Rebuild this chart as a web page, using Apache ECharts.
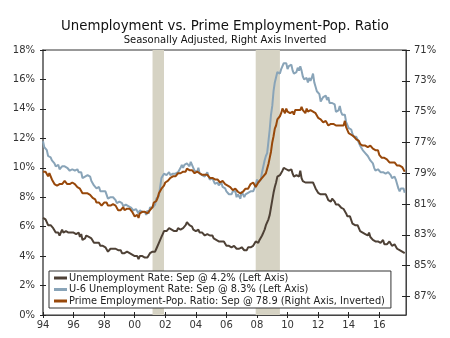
<!DOCTYPE html>
<html>
<head>
<meta charset="utf-8">
<script src="https://cdn.jsdelivr.net/npm/echarts@6/dist/echarts.min.js"></script>
<style>html,body{margin:0;padding:0;background:#fff}#c{width:450px;height:338px}</style>
</head>
<body>
<div id="c"></div>
<script>
// Monthly data, Jan 1994 - Sep 2017
var startYear = 1994;
var unemploymentRate = [
6.6,6.6,6.5,6.4,6.1,6.1,6.1,6.0,5.9,5.8,5.6,5.5,
5.6,5.4,5.4,5.8,5.6,5.6,5.7,5.7,5.6,5.5,5.6,5.6,
5.6,5.5,5.5,5.6,5.6,5.3,5.5,5.1,5.2,5.2,5.4,5.4,
5.3,5.2,5.2,5.1,4.9,5.0,4.9,4.8,4.9,4.7,4.6,4.7,
4.6,4.6,4.7,4.3,4.4,4.5,4.5,4.5,4.6,4.5,4.4,4.4,
4.3,4.4,4.2,4.3,4.2,4.3,4.3,4.2,4.2,4.1,4.1,4.0,
4.0,4.1,4.0,3.8,4.0,4.0,4.0,4.1,3.9,3.9,3.9,3.9,
4.2,4.2,4.3,4.4,4.3,4.5,4.6,4.9,5.0,5.3,5.5,5.7,
5.7,5.7,5.7,5.9,5.8,5.8,5.8,5.7,5.7,5.7,5.9,6.0,
5.8,5.9,5.9,6.0,6.1,6.3,6.2,6.1,6.1,6.0,5.8,5.7,
5.7,5.6,5.8,5.6,5.6,5.6,5.5,5.4,5.4,5.5,5.4,5.4,
5.3,5.4,5.2,5.2,5.1,5.0,5.0,4.9,5.0,5.0,5.0,4.9,
4.7,4.8,4.7,4.7,4.6,4.6,4.7,4.7,4.5,4.4,4.5,4.4,
4.6,4.5,4.4,4.5,4.4,4.6,4.7,4.6,4.7,4.7,4.7,5.0,
5.0,4.9,5.1,5.0,5.4,5.6,5.8,6.1,6.1,6.5,6.8,7.3,
7.8,8.3,8.7,9.0,9.4,9.5,9.5,9.6,9.8,10.0,9.9,9.9,
9.8,9.8,9.9,9.9,9.6,9.4,9.4,9.5,9.5,9.4,9.8,9.3,
9.1,9.0,9.0,9.1,9.0,9.1,9.0,9.0,9.0,8.8,8.6,8.5,
8.3,8.3,8.2,8.2,8.2,8.2,8.2,8.0,7.8,7.8,7.7,7.9,
8.0,7.7,7.5,7.6,7.5,7.5,7.3,7.2,7.2,7.2,6.9,6.7,
6.6,6.7,6.7,6.2,6.3,6.1,6.2,6.1,5.9,5.7,5.8,5.6,
5.7,5.5,5.4,5.4,5.6,5.3,5.2,5.1,5.0,5.0,5.1,5.0,
4.9,4.9,5.0,5.1,4.8,4.9,4.8,4.9,5.0,4.9,4.7,4.7,
4.8,4.7,4.5,4.4,4.4,4.3,4.3,4.4,4.2
];
var u6Rate = [
11.8,11.4,11.4,11.2,10.8,10.9,10.7,10.5,10.4,10.3,10.1,10.0,
10.2,9.9,9.9,10.1,10.0,10.1,10.1,10.0,10.0,9.8,9.9,9.9,
9.8,9.8,9.8,9.9,9.7,9.6,9.7,9.3,9.4,9.4,9.3,9.5,
9.4,9.4,9.1,9.2,8.8,8.8,8.6,8.7,8.7,8.4,8.3,8.4,
8.4,8.4,8.4,7.9,7.9,8.0,8.1,8.0,7.9,7.8,7.6,7.6,
7.7,7.7,7.6,7.4,7.5,7.5,7.5,7.4,7.4,7.3,7.2,7.1,
7.1,7.2,7.1,6.9,7.1,7.0,7.0,7.1,7.0,6.8,7.1,6.9,
7.3,7.4,7.3,7.4,7.5,7.9,7.8,8.1,8.7,9.3,9.4,9.6,
9.5,9.5,9.4,9.7,9.5,9.5,9.6,9.6,9.6,9.6,9.7,9.8,
10.0,10.2,10.0,10.2,10.1,10.3,10.3,10.1,10.4,10.2,10.0,9.8,
9.9,9.7,10.0,9.6,9.6,9.5,9.5,9.4,9.4,9.7,9.4,9.2,
9.3,9.3,9.1,8.9,8.9,9.0,8.8,8.9,9.0,8.7,8.7,8.6,
8.4,8.4,8.2,8.1,8.2,8.4,8.5,8.4,8.0,8.2,8.1,7.9,
8.4,8.2,8.0,8.2,8.2,8.3,8.4,8.4,8.4,8.4,8.4,8.8,
9.2,9.0,9.1,9.2,9.7,10.1,10.5,10.8,11.0,11.8,12.6,13.6,
14.2,15.2,15.8,15.9,16.5,16.5,16.4,16.7,16.7,17.1,17.1,17.1,
16.7,16.9,16.9,17.0,16.6,16.4,16.4,16.5,16.8,16.6,16.9,16.6,
16.2,16.0,15.9,16.1,15.8,16.1,15.9,16.1,16.4,15.8,15.5,15.2,
15.2,15.0,14.5,14.6,14.8,14.8,14.9,14.6,14.8,14.4,14.4,14.4,
14.5,14.3,13.8,13.9,13.9,14.2,13.8,13.6,13.5,13.6,13.1,13.1,
12.7,12.6,12.6,12.3,12.1,12.0,12.1,12.0,11.7,11.5,11.4,11.2,
11.3,11.0,10.9,10.8,10.7,10.5,10.4,10.3,10.0,9.8,9.9,9.9,
9.9,9.7,9.8,9.7,9.7,9.6,9.7,9.7,9.7,9.5,9.3,9.2,
9.4,9.2,8.9,8.6,8.4,8.6,8.6,8.6,8.3
];
var primeEpop = [
78.9,79.0,78.9,79.0,79.2,79.0,79.1,79.4,79.5,79.7,79.8,79.8,
79.8,79.7,79.8,79.7,79.6,79.5,79.6,79.7,79.7,79.7,79.6,79.6,
79.6,79.7,79.8,79.9,79.9,80.0,80.1,80.3,80.3,80.3,80.2,80.3,
80.3,80.4,80.5,80.6,80.7,80.7,80.9,80.8,80.9,81.0,81.1,81.1,
80.9,80.8,80.9,81.1,81.2,81.1,81.0,81.0,81.0,81.1,81.2,81.4,
81.4,81.4,81.3,81.2,81.4,81.3,81.3,81.3,81.3,81.4,81.5,81.5,
81.8,81.7,81.7,81.9,81.6,81.6,81.5,81.4,81.5,81.6,81.6,81.7,
81.4,81.3,81.2,80.9,80.8,80.8,80.6,80.3,80.4,80.0,79.9,79.8,
79.6,79.6,79.5,79.4,79.3,79.3,79.2,79.1,79.2,79.1,79.0,78.9,
79.0,79.0,78.9,78.9,78.9,78.7,78.8,78.8,78.7,78.8,78.9,79.0,
78.9,78.9,78.9,79.0,79.1,79.1,79.2,79.1,79.1,79.1,79.2,79.3,
79.3,79.3,79.3,79.4,79.4,79.4,79.5,79.6,79.6,79.5,79.6,79.7,
79.7,79.8,79.9,79.9,80.0,80.1,80.0,80.0,80.1,80.2,80.2,80.3,
80.3,80.2,80.2,80.0,80.0,80.0,79.9,79.7,79.8,79.6,79.7,79.9,
79.9,79.6,79.6,79.4,79.3,79.2,79.1,79.0,78.7,78.4,78.0,77.6,
77.0,76.6,76.1,75.9,75.5,75.4,75.3,75.1,74.8,74.9,75.1,74.8,
75.0,75.0,75.1,75.1,75.0,75.2,74.9,74.8,74.9,74.9,74.9,74.7,
74.9,75.0,75.1,74.8,75.0,74.9,74.9,74.9,75.0,75.0,75.1,75.1,
75.4,75.5,75.5,75.5,75.7,75.7,75.6,75.7,75.9,76.0,75.8,75.7,
75.8,75.8,75.9,75.9,75.9,75.8,75.9,75.8,75.9,75.6,76.0,75.9,
76.4,76.4,76.5,76.5,76.6,76.6,76.8,76.7,76.9,77.1,77.2,77.2,
77.2,77.2,77.3,77.3,77.3,77.2,77.2,77.4,77.4,77.5,77.5,77.5,
77.8,77.9,78.0,78.0,78.0,78.1,78.1,78.2,78.3,78.3,78.3,78.3,
78.3,78.4,78.5,78.5,78.5,78.5,78.6,78.5,78.9
];
var seriesNames = [
  'Unemployment Rate: Sep @ 4.2% (Left Axis)',
  'U-6 Unemployment Rate: Sep @ 8.3% (Left Axis)',
  'Prime Employment-Pop. Ratio: Sep @ 78.9 (Right Axis, Inverted)'
];
var recessions = [[2001 + 2/12, 2001 + 11/12], [2007 + 11/12, 2009 + 6/12]];
var xTickYears = [1994,1996,1998,2000,2002,2004,2006,2008,2010,2012,2014,2016];
var leftTicks = [0,2,4,6,8,10,12,14,16,18];
var rightTicks = [71,73,75,77,79,81,83,85,87];

function toPairs(arr) {
  return arr.map(function (v, i) { return [startYear + i / 12, v]; });
}
var FONT = 'DejaVu Sans';
var xMin = 1994, xMax = 2017.75;
var chart = echarts.init(document.getElementById('c'), null, {renderer: 'canvas'});
function xAx(inside, show) {
  return {
    type: 'value', min: xMin, max: xMax, gridIndex: 0, position: 'bottom',
    axisLine: {show: show, onZero: false, lineStyle: {color: '#444', width: 1}},
    axisTick: {show: true, inside: inside, length: 3, customValues: xTickYears, lineStyle: {color: '#222'}},
    axisLabel: {show: show, customValues: xTickYears, color: '#333', fontFamily: FONT, fontSize: 10, margin: 5,
      formatter: function (v) { var s = String(Math.round(v) % 100); return s.length < 2 ? '0' + s : s; }},
    splitLine: {show: false}
  };
}
function yLeft(inside, show) {
  return {
    type: 'value', min: 0, max: 18, interval: 2, position: 'left',
    axisLine: {show: show, lineStyle: {color: '#7a7a7a', width: 2}},
    axisTick: {show: true, inside: inside, length: 3, customValues: leftTicks, lineStyle: {color: '#222'}},
    axisLabel: {show: show, customValues: leftTicks, color: '#333', fontFamily: FONT, fontSize: 10, margin: 8,
      formatter: function (v) { return v + '%'; }},
    splitLine: {show: false}
  };
}
function yRight(inside, show) {
  return {
    type: 'value', min: 71, max: 88.2, inverse: true, position: 'right',
    axisLine: {show: show, lineStyle: {color: '#444', width: 1}},
    axisTick: {show: true, inside: inside, length: 4, customValues: rightTicks, lineStyle: {color: '#222'}},
    axisLabel: {show: show, customValues: rightTicks, color: '#333', fontFamily: FONT, fontSize: 10, margin: 8,
      formatter: function (v) { return v + '%'; }},
    splitLine: {show: false}
  };
}
var option = {
  animation: false,
  backgroundColor: '#fff',
  title: [
    {text: 'Unemployment vs. Prime Employment-Pop. Ratio', left: 'center', top: 15,
      textStyle: {fontFamily: FONT, fontSize: 13.3, fontWeight: 'normal', color: '#111'}},
    {text: 'Seasonally Adjusted, Right Axis Inverted', left: 'center', top: 30,
      textStyle: {fontFamily: FONT, fontSize: 10, fontWeight: 'normal', color: '#111'}}
  ],
  grid: {left: 43, right: 44, top: 50, bottom: 23, show: true, borderColor: '#333', borderWidth: 1, backgroundColor: 'transparent'},
  xAxis: [xAx(false, true), xAx(true, false)],
  yAxis: [yLeft(false, true), yRight(false, true), yLeft(true, false), yRight(true, false)],
  legend: {
    orient: 'vertical', left: 49, top: 271, itemGap: 1.5,
    data: seriesNames, icon: 'rect', itemWidth: 13, itemHeight: 3,
    backgroundColor: '#fff', borderColor: '#333', borderWidth: 1, padding: [2, 6, 2, 5],
    textStyle: {fontFamily: FONT, fontSize: 9.8, color: '#222', padding: [0, 0, 0, -3]},
    z: 10
  },
  series: [
    {name: seriesNames[0], type: 'line', xAxisIndex: 0, yAxisIndex: 0, data: toPairs(unemploymentRate),
      showSymbol: false, lineStyle: {color: '#4e4136', width: 2}, itemStyle: {color: '#4e4136'}, z: 3,
      markArea: {silent: true, itemStyle: {color: '#d6d3c4'},
        data: recessions.map(function (r) { return [{xAxis: r[0]}, {xAxis: r[1]}]; })}},
    {name: seriesNames[1], type: 'line', xAxisIndex: 0, yAxisIndex: 0, data: toPairs(u6Rate),
      showSymbol: false, lineStyle: {color: '#89a4b8', width: 2}, itemStyle: {color: '#89a4b8'}, z: 3},
    {name: seriesNames[2], type: 'line', xAxisIndex: 0, yAxisIndex: 1, data: toPairs(primeEpop),
      showSymbol: false, lineStyle: {color: '#98480a', width: 2}, itemStyle: {color: '#98480a'}, z: 4}
  ]
};
chart.setOption(option);
</script>
</body>
</html>
